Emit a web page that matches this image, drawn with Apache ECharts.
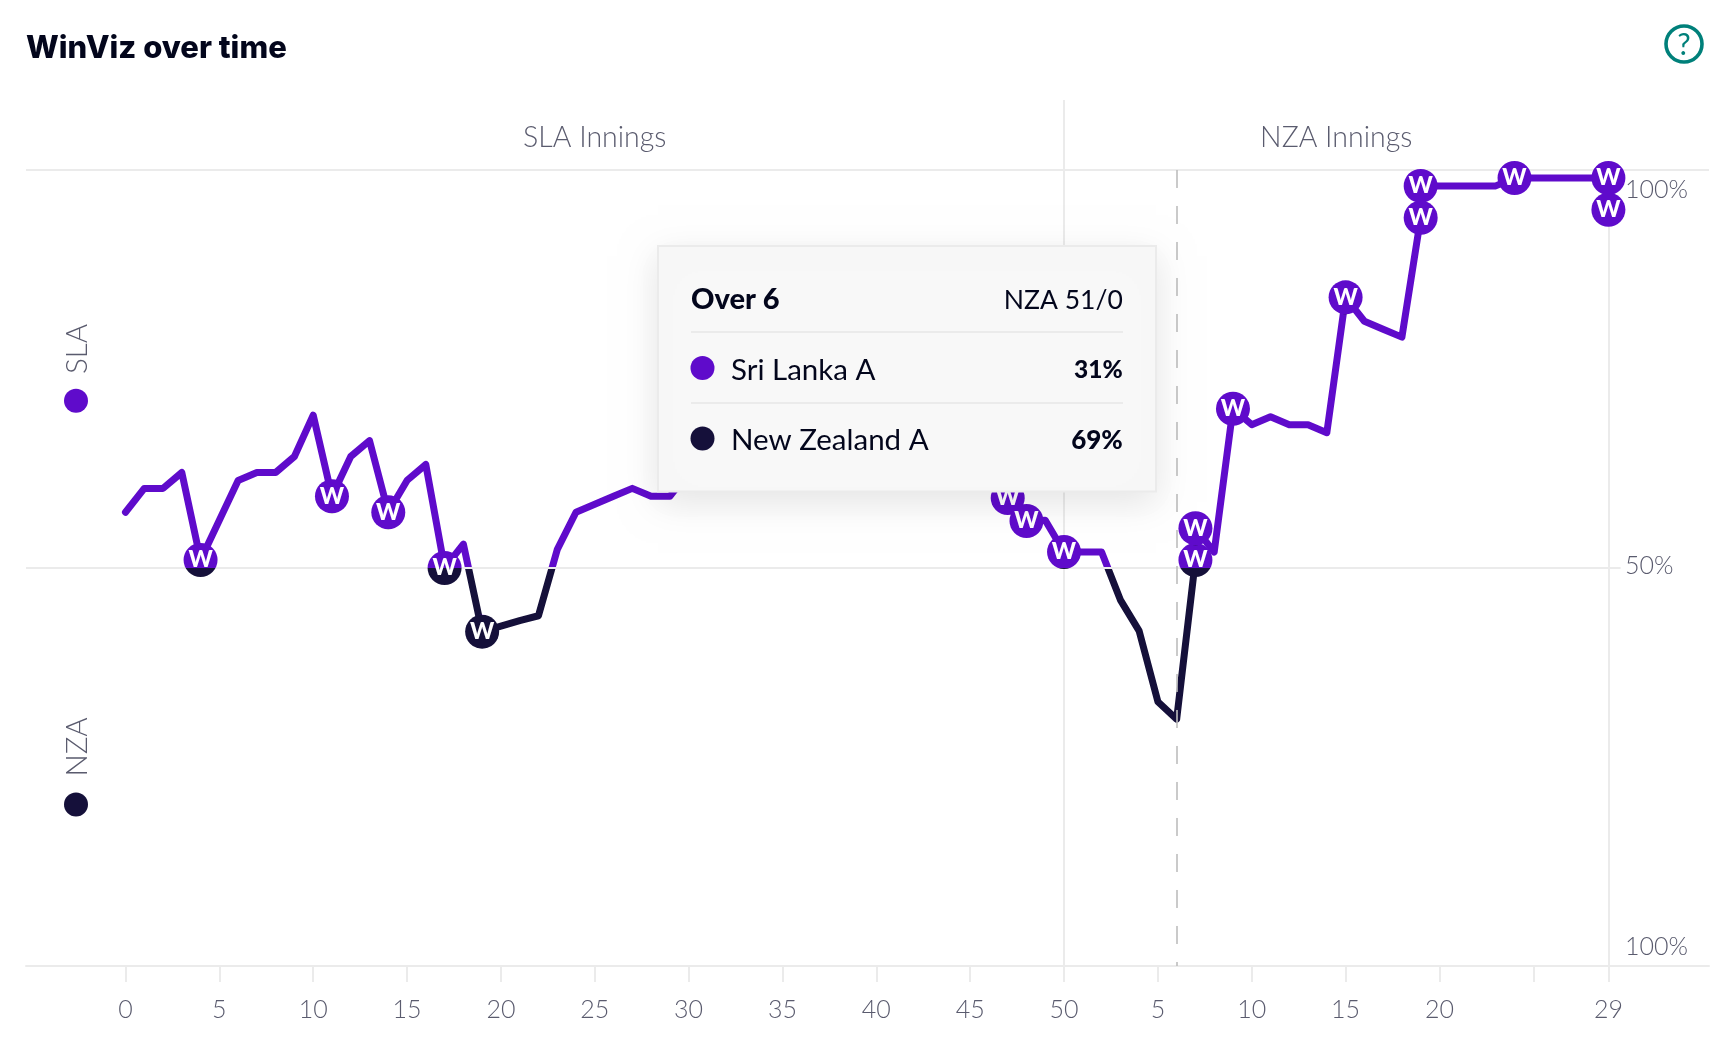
<!DOCTYPE html>
<html>
<head>
<meta charset="utf-8">
<style>html,body{margin:0;padding:0;background:#fff}#c{width:1726px;height:1052px}</style>
<script src="https://cdn.jsdelivr.net/npm/echarts@6/dist/echarts.min.js"></script>
</head>
<body>
<div id="c"></div>
<script>
const overs = [0,1,2,3,4,5,6,7,8,9,10,11,12,13,14,15,16,17,18,19,20,21,22,23,24,25,26,27,28,29,
  30,31,32,33,34,35,36,37,38,39,40,41,42,43,44,45,46,47,48,49,50,51,52,53,54,55,56,57,57,58,59,
  60,61,62,63,64,65,66,67,68,69,69,70,71,72,73,74,75,76,77,78,79,79];
const winPct = [57,60,60,62,51,56,61,62,62,64,69.2,59,64,66,57,61,63,50,53,42,42.7,43.4,44,52.3,57,58,59,60,59,59,
  62,63,64,63,65,66,65,67,68,66,67,65,66,64,65,63,62,58.8,55.9,56,52,52,52,46,42.1,33.2,31,51,55,52,70,
  68,69,68,68,67,84,81,80,79,94,98,98,98,98,98,99,99,99,99,99,99,95];
const wickets = [0,0,0,0,1,0,0,0,0,0,0,1,0,0,1,0,0,1,0,1,0,0,0,0,0,0,0,0,0,0,
  0,0,0,0,0,0,0,0,0,0,0,0,0,0,0,0,0,1,1,0,1,0,0,0,0,0,0,1,1,0,1,
  0,0,0,0,0,1,0,0,0,1,1,0,0,0,0,1,0,0,0,0,1,1];
const xTickValues = [0,5,10,15,20,25,30,35,40,45,50,55,60,65,70,75,79];
const xTickLabels = ['0','5','10','15','20','25','30','35','40','45','50','5','10','15','20','','29'];
const yLabelValues = [2.4,50.2,97.5];
const yTickLabels = ['100%','50%','100%'];
const inningsLabels = ['SLA Innings','NZA Innings'];
const inningsCentres = [25,64.5];
const teamShort = ['SLA','NZA'];
const teamNames = ['Sri Lanka A','New Zealand A'];
const tooltipOver = 'Over 6';
const tooltipScore = 'NZA 51/0';
const tooltipPct = ['31%','69%'];

const PURPLE='#5F0BCB', DARK='#15103A', GREY='#5A5B6E', RULE='#EBEBEB', INK='#03061C', TEAL='#00807A';
const FONT='Lato, sans-serif';
const gridL=26, gridR=17, gridT=100, gridB=86, W_SIZE=34;
const xMin=-5.3, xMax=84.36, yMax=108.79, innerH=1052-gridT-gridB, pxPerPct=innerH/yMax;
const xPx=v=>gridL+(v-xMin)/(xMax-xMin)*(1726-gridL-gridR);

function markerColor(v){
  const t=Math.max(0,Math.min(1,0.5+(v-50)*pxPerPct/W_SIZE));
  return {type:'linear',x:0,y:0,x2:0,y2:1,colorStops:[
    {offset:0,color:PURPLE},{offset:t,color:PURPLE},{offset:t,color:DARK},{offset:1,color:DARK}]};
}
const linePts=overs.map((o,i)=>[o,winPct[i]]);
const wPts=linePts.filter((p,i)=>wickets[i]).map(p=>({value:p,itemStyle:{color:markerColor(p[1]),opacity:1}}));
const rule=(a,b,ls)=>[{coord:a,lineStyle:ls},{coord:b}];
const solid={color:RULE,width:2,type:'solid'};

const T=(text,x,y,o)=>({type:'text',x,y,z:o.z||120,rotation:o.rotation||0,style:{text,fill:o.fill||GREY,font:(o.weight||400)+' '+(o.size||26)+'px '+(o.family||FONT),align:o.align||'left',verticalAlign:'middle'}});
const dot=(x,y,fill,z)=>({type:'circle',z:z||120,shape:{cx:x,cy:y,r:12},style:{fill}});

const chart=echarts.init(document.getElementById('c'));
chart.setOption({
  animation:false,
  backgroundColor:'#fff',
  grid:{left:gridL,right:gridR,top:gridT,bottom:gridB},
  xAxis:{type:'value',min:xMin,max:xMax,splitLine:{show:false},
    axisLine:{show:true,onZero:false,lineStyle:{color:RULE,width:2}},
    axisTick:{show:true,length:16,lineStyle:{color:RULE,width:2},customValues:xTickValues},
    axisLabel:{customValues:xTickValues,margin:31,color:GREY,fontFamily:FONT,fontSize:25,fontWeight:300,hideOverlap:false,
      formatter:(v)=>xTickLabels[xTickValues.indexOf(v)]}},
  yAxis:{type:'value',min:0,max:yMax,position:'right',splitLine:{show:false},axisLine:{show:false},axisTick:{show:false},
    axisLabel:{inside:true,customValues:yLabelValues,margin:84,align:'left',color:GREY,fontFamily:FONT,fontSize:25,fontWeight:300,
      formatter:(v)=>yTickLabels[yLabelValues.indexOf(v)]}},
  visualMap:{show:false,seriesIndex:1,dimension:1,type:'piecewise',pieces:[{gte:0,lte:50,color:DARK},{gt:50,lte:100,color:PURPLE}]},
  series:[
    {name:'guides',type:'line',z:1,data:[[0,0]],symbol:'none',lineStyle:{opacity:0},silent:true,
     markLine:{silent:true,symbol:'none',label:{show:false},animation:false,data:[
       rule([xMin,100],[xMax,100],solid),
       rule([xMin,50],[79.65,50],solid),
       rule([50,yMax],[50,0],solid),
       rule([79,99],[79,0],solid),
       rule([56,100],[56,0],{color:'#BDBDBD',width:1.6,type:[18,18]})
     ]}},
    {name:'win',type:'line',z:3,data:linePts,symbol:'none',showSymbol:false,smooth:false,
     lineStyle:{width:7,cap:'round',join:'round',opacity:1}},
    {name:'wickets',type:'scatter',z:5,data:wPts,symbol:'circle',symbolSize:W_SIZE,
     label:{show:true,position:'inside',formatter:'W',color:'#fff',fontFamily:FONT,fontWeight:900,fontSize:23}}
  ],
  graphic:{elements:[
    T('WinViz over time',26,48.5,{fill:INK,weight:800,size:31,family:'Inter, sans-serif'}),
    {type:'circle',z:120,shape:{cx:1684,cy:44,r:18},style:{fill:'#fff',stroke:TEAL,lineWidth:3.6}},
    T('?',1684,45,{fill:TEAL,weight:400,size:30,align:'center'}),
    T(inningsLabels[0],xPx(inningsCentres[0]),137.5,{size:28.5,weight:300,align:'center'}),
    T(inningsLabels[1],xPx(inningsCentres[1]),137.5,{size:28.5,weight:300,align:'center'}),
    T(teamShort[0],77,349,{size:29.5,weight:300,align:'center',rotation:Math.PI/2}),
    dot(76,400.7,PURPLE),
    T(teamShort[1],77,747,{size:29.5,weight:300,align:'center',rotation:Math.PI/2}),
    dot(76,804.6,DARK),
    {type:'rect',z:110,shape:{x:658,y:246,width:498,height:245.5},
     style:{fill:'#F8F8F8',stroke:RULE,lineWidth:2,shadowBlur:34,shadowColor:'rgba(0,0,0,0.10)',shadowOffsetY:10}},
    T(tooltipOver,691,300,{fill:INK,weight:900,size:29}),
    T(tooltipScore,1122.8,300,{fill:INK,weight:400,size:26.5,align:'right'}),
    {type:'rect',z:120,shape:{x:691,y:331,width:432,height:2},style:{fill:RULE}},
    dot(702.5,368,PURPLE),
    T(teamNames[0],731,370,{fill:INK,size:29.5}),
    T(tooltipPct[0],1122.8,370,{fill:INK,weight:900,size:24.5,align:'right'}),
    {type:'rect',z:120,shape:{x:691,y:402,width:432,height:2},style:{fill:RULE}},
    dot(702.5,438.5,DARK),
    T(teamNames[1],731,440.5,{fill:INK,size:29.5}),
    T(tooltipPct[1],1122.8,440.5,{fill:INK,weight:900,size:26,align:'right'})
  ]}
});
</script>
</body>
</html>
